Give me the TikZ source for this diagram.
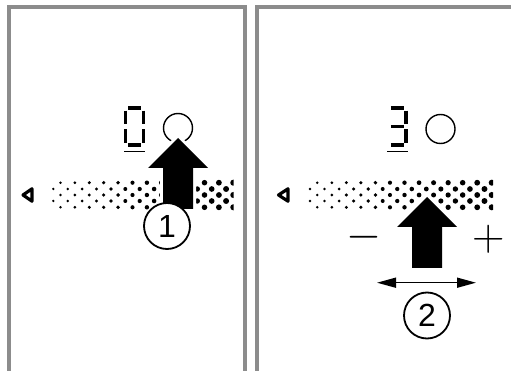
\RequirePackage{fix-cm}
\documentclass[tikz,border=0pt]{standalone}
\usepackage{fontspec}
\setmainfont{Liberation Sans}
\usetikzlibrary{arrows.meta}
\definecolor{framegray}{RGB}{140,140,140}

\begin{document}
\begin{tikzpicture}[x=1pt,y=-1pt,
  panel/.style={draw=framegray,line width=4pt,line join=miter},
  lcd/.style={line width=3.6pt},
  lamp/.style={circle,draw,line width=1.4pt,minimum size=29pt,inner sep=0pt},
  pusharrow/.style={fill=black,preaction={draw=white,line width=6pt,line join=miter}},
  stepnum/.style={circle,draw,fill=white,line width=1.8pt,minimum size=46pt,inner sep=0pt,font=\fontsize{32}{32}\selectfont},
  sign/.style={inner sep=0pt,font=\fontsize{45}{45}\selectfont},
  slide/.style={{Triangle[length=19pt,width=10pt]}-{Triangle[length=19pt,width=10pt]},line width=1.5pt}]
  \useasboundingbox (0,0) rectangle (511,371);
  \clip (0,0) rectangle (511,371);
  \draw[panel] (9.3,380) -- (9.3,7.3) -- (244.7,7.3) -- (244.7,380);
  \draw[panel] (257.3,380) -- (257.3,7.3) -- (520,7.3);
  % level bars
  \draw[line width=3.2pt,line join=round] (23,195) -- (32,188.8) -- (32,201.2) -- cycle;
  \draw[line width=3.2pt,line join=round] (278.5,195) -- (288,188.8) -- (288,201.2) -- cycle;
  \begin{scope}
    \clip (51,170) rectangle (233.5,215);
    \foreach \k [evaluate=\k as \r using 1.3+0.07*\k, evaluate=\k as \xa using 53.3+7.2*\k] in {0,...,25}{
      \ifodd\k
        \foreach \y in {182.7,195,207.3} \fill (\xa,\y) circle[radius=\r pt];
      \else
        \foreach \y in {189,201} \fill (\xa,\y) circle[radius=\r pt];
      \fi
    }
  \end{scope}
  \begin{scope}
    \clip (307,170) rectangle (493,215);
    \foreach \k [evaluate=\k as \r using 1.3+0.07*\k, evaluate=\k as \xa using 310+7.27*\k] in {0,...,25}{
      \ifodd\k
        \foreach \y in {182.7,195,207.3} \fill (\xa,\y) circle[radius=\r pt];
      \else
        \foreach \y in {189,201} \fill (\xa,\y) circle[radius=\r pt];
      \fi
    }
  \end{scope}
  % lcd digits
  \draw[lcd] (128,108.2) -- (141,108.2);
  \draw[lcd] (143.5,110.7) -- (143.5,124.2);
  \draw[lcd] (143.5,129.2) -- (143.5,142.7);
  \draw[lcd] (128,145.2) -- (141,145.2);
  \draw[lcd] (125.5,129.2) -- (125.5,142.7);
  \draw[lcd] (125.5,110.7) -- (125.5,124.2);
  \draw[line width=1.6pt] (124,151.7) -- (145,151.7);
  \draw[lcd] (390.8,108.2) -- (403.5,108.2);
  \draw[lcd] (406,110.7) -- (406,124.2);
  \draw[lcd] (406,129.2) -- (406,142.7);
  \draw[lcd] (390.8,145.2) -- (403.5,145.2);
  \draw[lcd] (390.8,126.7) -- (403.5,126.7);
  \draw[line width=1.6pt] (387,151.7) -- (407.5,151.7);
  \node[lamp] (lampA) at (178,128) {};
  \node[lamp] (lampB) at (440.5,129) {};
  % push arrows
  \path[pusharrow] (178,138) -- (208,168) -- (193,168) -- (193,209) -- (163,209) -- (163,168) -- (148,168) -- cycle;
  \path[pusharrow] (427,197) -- (457,227) -- (442,227) -- (442,268) -- (412,268) -- (412,227) -- (397,227) -- cycle;
  \node[stepnum] (stepA) at (167,226) {1};
  \node[stepnum] (stepB) at (427,315.5) {2};
  \node[sign] (minus) at (363.8,237.7) {$-$};
  \node[sign] (plus) at (488.3,239.5) {$+$};
  \coordinate (slideL) at (377,282.7);
  \coordinate (slideR) at (476,282.7);
  \draw[slide] (slideL) -- (slideR);
\end{tikzpicture}
\end{document}
